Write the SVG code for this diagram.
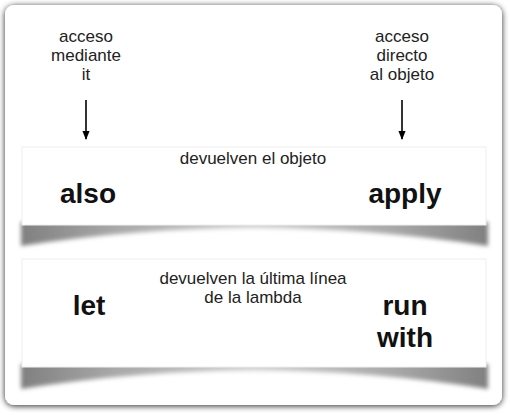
<svg xmlns="http://www.w3.org/2000/svg" width="510" height="415" viewBox="0 0 510 415">
  <defs>
    <style>
      .lbl{font-family:"Liberation Sans",Arial,sans-serif;font-size:17px;fill:#222;text-anchor:middle}
      .sub{font-family:"Liberation Sans",Arial,sans-serif;font-size:17px;fill:#222;text-anchor:middle}
      .kw{font-family:"Liberation Sans",Arial,sans-serif;font-size:28px;font-weight:bold;fill:#111;text-anchor:middle}
      .panel{fill:#fff;stroke:#eee;stroke-width:1}
      .arr{stroke:#000;stroke-width:1.6;fill:none}
    </style>
    <filter id="frameShadow" x="-5%" y="-5%" width="110%" height="110%">
      <feGaussianBlur in="SourceAlpha" stdDeviation="3"/>
      <feOffset dx="0" dy="1" result="b"/>
      <feComponentTransfer><feFuncA type="linear" slope="0.85"/></feComponentTransfer>
      <feMerge><feMergeNode/><feMergeNode in="SourceGraphic"/></feMerge>
    </filter>
    <filter id="blur" x="-5%" y="-50%" width="110%" height="200%">
      <feGaussianBlur stdDeviation="2.2"/>
    </filter>
    <linearGradient id="sh" x1="0" y1="0" x2="1" y2="0">
      <stop offset="0" stop-color="#808080"/>
      <stop offset="0.2" stop-color="#a8a8a8"/>
      <stop offset="0.5" stop-color="#cfcfcf"/>
      <stop offset="0.8" stop-color="#a8a8a8"/>
      <stop offset="1" stop-color="#808080"/>
    </linearGradient>
    <marker id="ah" viewBox="0 0 10 10" refX="9" refY="5" markerWidth="9" markerHeight="9" markerUnits="userSpaceOnUse" orient="auto">
      <path d="M0,1 L10,5 L0,9 z" fill="#000"/>
    </marker>
  </defs>
  <rect width="510" height="415" fill="#fff"/>
  <rect x="5" y="5" width="497" height="400" rx="9" fill="#fff" filter="url(#frameShadow)"/>

  <g id="top-left-label">
    <text class="lbl" x="86" y="42">acceso</text>
    <text class="lbl" x="86" y="61">mediante</text>
    <text class="lbl" x="86" y="80">it</text>
  </g>
  <g id="top-right-label">
    <text class="lbl" x="402" y="42">acceso</text>
    <text class="lbl" x="402" y="61">directo</text>
    <text class="lbl" x="402" y="80">al objeto</text>
  </g>

  <g id="connectors">
    <line class="arr" x1="86" y1="100" x2="86" y2="139" marker-end="url(#ah)"/>
    <line class="arr" x1="402" y1="100" x2="402" y2="139" marker-end="url(#ah)"/>
  </g>

  <g id="panel-objeto">
    <path d="M21,222 L21,246 Q254,210 488,246 L488,222 Z" fill="url(#sh)" filter="url(#blur)"/>
    <rect class="panel" x="22" y="147" width="464" height="78"/>
    <text class="sub" x="253" y="164">devuelven el objeto</text>
    <text class="kw" x="88" y="203">also</text>
    <text class="kw" x="405" y="203">apply</text>
  </g>

  <g id="panel-lambda">
    <path d="M21,364 L21,389 Q254,352 488,389 L488,364 Z" fill="url(#sh)" filter="url(#blur)"/>
    <rect class="panel" x="22" y="259" width="464" height="108"/>
    <text class="sub" x="253" y="284">devuelven la última línea</text>
    <text class="sub" x="253" y="303">de la lambda</text>
    <text class="kw" x="89" y="315">let</text>
    <text class="kw" x="405" y="315">run</text>
    <text class="kw" x="405" y="347">with</text>
  </g>
</svg>
